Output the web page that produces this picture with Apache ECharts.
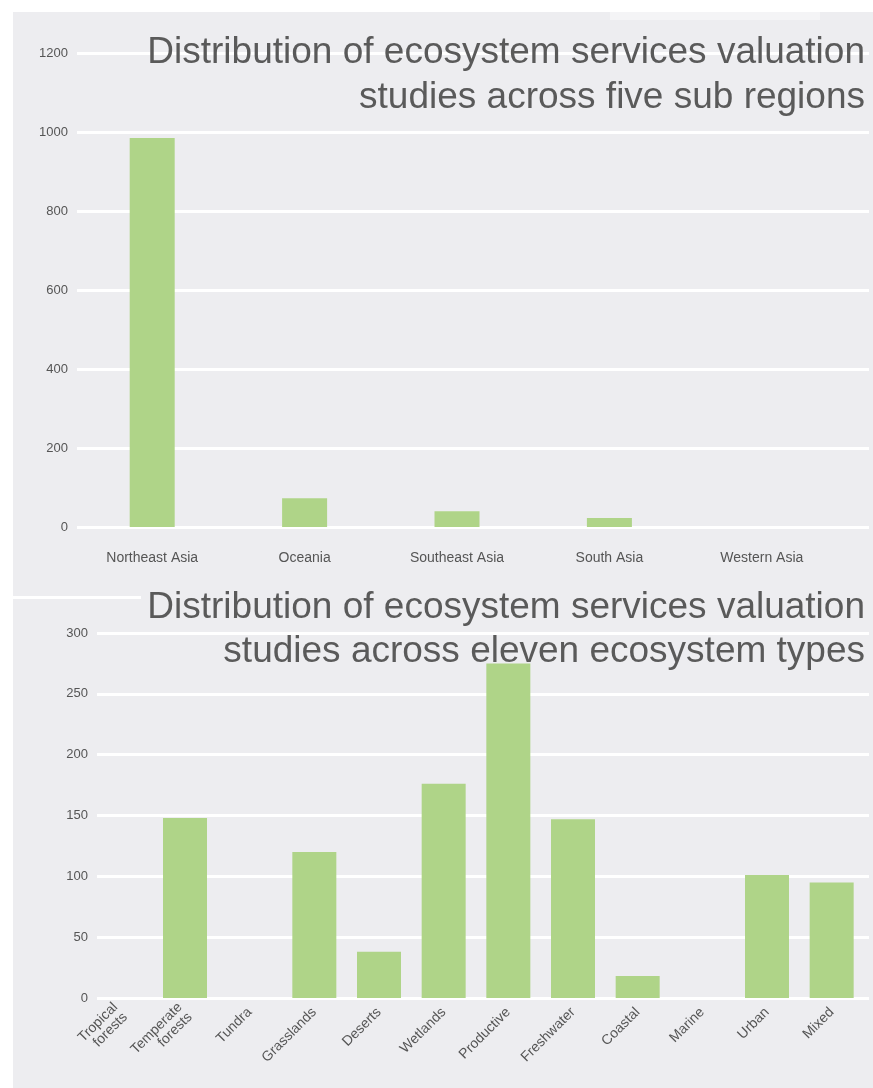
<!DOCTYPE html>
<html>
<head>
<meta charset="utf-8">
<script src="https://cdn.jsdelivr.net/npm/echarts@6/dist/echarts.min.js"></script>
<style>
  html, body { margin: 0; padding: 0; background: #ffffff; }
  #chart { width: 873px; height: 1088px; }
</style>
</head>
<body>
<div id="chart"></div>
<script>
// Valuation studies per sub region
const regionCategories = ['Northeast Asia', 'Oceania', 'Southeast Asia', 'South Asia', 'Western Asia'];
const regionCounts = [985, 73, 40, 23, 0];
const regionAxisMax = 1200;
const regionAxisStep = 200;

// Valuation studies per ecosystem type
const ecosystemCategories = ['Tropical\nforests', 'Temperate\nforests', 'Tundra', 'Grasslands', 'Deserts', 'Wetlands',
  'Productive', 'Freshwater', 'Coastal', 'Marine', 'Urban', 'Mixed'];
const ecosystemCounts = [0, 148, 0, 120, 38, 176, 275, 147, 18, 0, 101, 95];
const ecosystemAxisMax = 300;
const ecosystemAxisStep = 50;

const titleTop = ['Distribution of ecosystem services valuation', 'studies across five sub regions'];
const titleBottom = ['Distribution of ecosystem services valuation', 'studies across eleven ecosystem types'];

const BAR = '#afd488';
const PANEL = '#ededf0';
const LABEL = '#555555';
const TITLE = '#5a5a5a';
const narrow = '"Liberation Sans Narrow", "Liberation Sans", Arial, sans-serif';
const sans = '"Liberation Sans", Arial, sans-serif';

const chart = echarts.init(document.getElementById('chart'), null, { renderer: 'canvas' });

function titleLine(text, top) {
  return {
    text: text, right: 3, top: top,
    textStyle: { fontFamily: sans, fontSize: 37, fontWeight: 'normal', color: TITLE }
  };
}

// value-axis grids carry the tick labels and white gridlines;
// category grids carry the bars and category labels
const grids = [
  { left: 77, right: 4, top: 53, height: 474 },
  { left: 76, right: 35, top: 53, height: 474 },
  { left: 97, right: 4, top: 633, height: 365 },
  { left: 88, right: 9, top: 633, height: 365 }
];

const hiddenX = (gi) => ({ type: 'value', gridIndex: gi, show: false, min: 0, max: 1 });
const plain = (v) => String(v);

chart.setOption({
  backgroundColor: 'transparent',
  animation: false,
  graphic: [
    { type: 'rect', z: -100, shape: { x: 13, y: 12, width: 860, height: 1076 }, style: { fill: PANEL } },
    { type: 'rect', z: -99, shape: { x: 610, y: 0, width: 210, height: 20 }, style: { fill: 'rgba(255,255,255,0.4)' } },
    { type: 'rect', z: -99, shape: { x: 13, y: 596, width: 128, height: 3 }, style: { fill: '#ffffff' } }
  ],
  title: [
    titleLine(titleTop[0], 29),
    titleLine(titleTop[1], 74),
    titleLine(titleBottom[0], 584),
    titleLine(titleBottom[1], 628)
  ],
  grid: grids,
  xAxis: [
    hiddenX(0),
    {
      type: 'category', gridIndex: 1, data: regionCategories,
      axisLine: { show: false }, axisTick: { show: false },
      axisLabel: { margin: 24, fontFamily: narrow, fontSize: 14, color: LABEL }
    },
    hiddenX(2),
    {
      type: 'category', gridIndex: 3, data: ecosystemCategories,
      axisLine: { show: false }, axisTick: { show: false },
      axisLabel: { margin: 12, rotate: 45, interval: 0, fontFamily: narrow, fontSize: 14, lineHeight: 14, color: LABEL }
    }
  ],
  yAxis: [
    {
      type: 'value', gridIndex: 0, min: 0, max: regionAxisMax, interval: regionAxisStep,
      axisLine: { show: false }, axisTick: { show: false },
      axisLabel: { margin: 9, fontFamily: narrow, fontSize: 13, color: LABEL, formatter: plain },
      splitLine: { lineStyle: { color: '#ffffff', width: 3 } }
    },
    { type: 'value', gridIndex: 1, min: 0, max: regionAxisMax, show: false, splitLine: { show: false } },
    {
      type: 'value', gridIndex: 2, min: 0, max: ecosystemAxisMax, interval: ecosystemAxisStep,
      axisLine: { show: false }, axisTick: { show: false },
      axisLabel: { margin: 9, fontFamily: narrow, fontSize: 13, color: LABEL, formatter: plain },
      splitLine: { lineStyle: { color: '#ffffff', width: 3 } }
    },
    { type: 'value', gridIndex: 3, min: 0, max: ecosystemAxisMax, show: false, splitLine: { show: false } }
  ],
  series: [
    {
      type: 'bar', xAxisIndex: 1, yAxisIndex: 1, data: regionCounts,
      barWidth: 45, itemStyle: { color: BAR }, silent: true
    },
    {
      type: 'bar', xAxisIndex: 3, yAxisIndex: 3, data: ecosystemCounts,
      barWidth: 44, itemStyle: { color: BAR }, silent: true
    }
  ]
});
</script>
</body>
</html>
